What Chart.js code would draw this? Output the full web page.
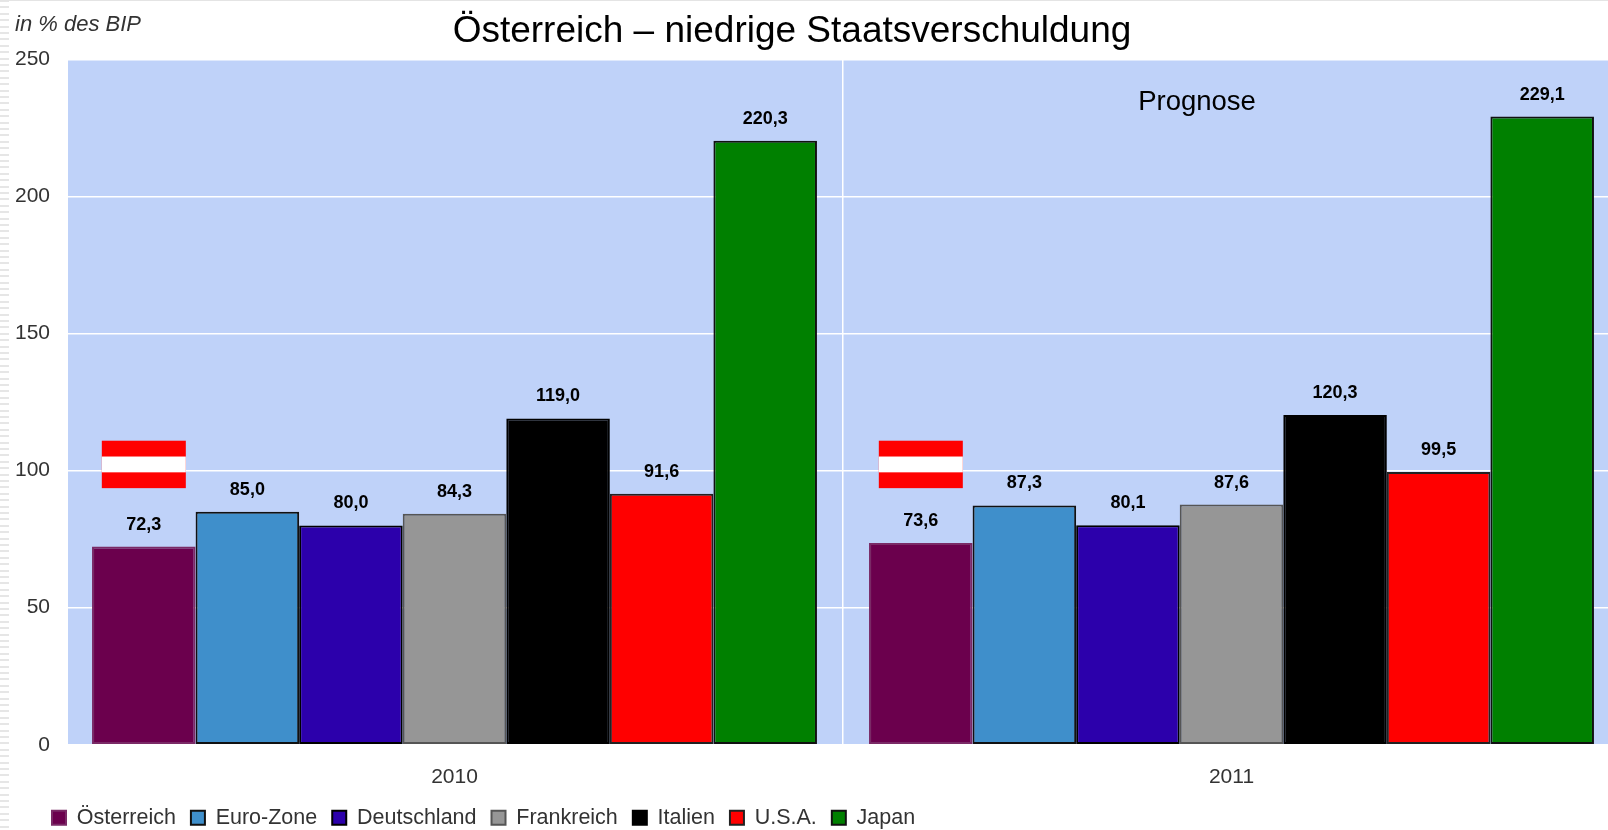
<!DOCTYPE html>
<html>
<head>
<meta charset="utf-8">
<title>Österreich – niedrige Staatsverschuldung</title>
<script src="https://cdn.jsdelivr.net/npm/chart.js@4/dist/chart.umd.min.js"></script>
<style>
  html, body { margin: 0; padding: 0; width: 1608px; height: 830px; overflow: hidden; background: #fff; }
  #stripes { position: absolute; left: 0; top: 0; width: 9px; height: 830px;
    background: repeating-linear-gradient(to bottom, #e6e6e6 0, #e6e6e6 2px, #fff 2px, #fff 6.4px); }
  #topline { position: absolute; left: 0; top: 0; width: 1608px; height: 1px; background: #e4e4e4; }
  canvas { position: absolute; left: 0; top: 0; }
</style>
</head>
<body>
<div id="stripes"></div>
<div id="topline"></div>
<canvas id="chart" width="1620" height="850"></canvas>
<script>
const categories = ['2010', '2011'];
const seriesNames = ['Österreich', 'Euro-Zone', 'Deutschland', 'Frankreich', 'Italien', 'U.S.A.', 'Japan'];
const oesterreich = [72.3, 73.6];
const euroZone = [85.0, 87.3];
const deutschland = [80.0, 80.1];
const frankreich = [84.3, 87.6];
const italien = [119.0, 120.3];
const usa = [91.6, 99.5];
const japan = [220.3, 229.1];
const seriesValues = [oesterreich, euroZone, deutschland, frankreich, italien, usa, japan];
const seriesColors = ['#6b004d', '#3f8fcb', '#2c00ab', '#969696', '#000000', '#ff0000', '#008000'];
const seriesBorders = ['#7a2a66', '#111111', '#000000', '#555555', '#000000', '#222222', '#111111'];
const yTicks = [0, 50, 100, 150, 200, 250];

const FONT = '"Liberation Sans", Arial, sans-serif';

// plot background, title, value labels and the two flags
const decorations = {
  id: 'decorations',
  afterLayout(chart) {
    chart.legend.left = 37;
    chart.legend.top = 792;
  },
  beforeDraw(chart) {
    const { ctx, chartArea: a } = chart;
    ctx.save();
    ctx.fillStyle = '#bfd2f9';
    ctx.fillRect(a.left + 2, a.top, a.right - a.left - 2, a.bottom - a.top);
    ctx.restore();
  },
  afterDatasetsDraw(chart) {
    const { ctx } = chart;
    const y = chart.scales.y;
    ctx.save();
    ctx.textAlign = 'center';
    ctx.textBaseline = 'middle';

    ctx.font = 'bold 18px ' + FONT;
    ctx.fillStyle = '#000';
    chart.data.datasets.forEach((ds, i) => {
      chart.getDatasetMeta(i).data.forEach((bar, j) => {
        ctx.fillText(ds.data[j].toFixed(1).replace('.', ','), bar.x, bar.y - 22);
      });
    });

    // flag sits above the first bar of each group
    chart.getDatasetMeta(0).data.forEach(bar => {
      const top = y.getPixelForValue(110.9);
      const bottom = y.getPixelForValue(93.6);
      const h = (bottom - top) / 3;
      ctx.fillStyle = '#ff0000';
      ctx.fillRect(bar.x - 42, top, 84, bottom - top);
      ctx.fillStyle = '#ffffff';
      ctx.fillRect(bar.x - 42, top + h, 84, h);
    });

    ctx.fillStyle = '#000';
    ctx.font = '27.5px ' + FONT;
    ctx.fillText('Prognose', 1197, 102);

    ctx.font = '37px ' + FONT;
    ctx.fillText('Österreich – niedrige Staatsverschuldung', 792, 32);

    ctx.textAlign = 'left';
    ctx.fillStyle = '#333';
    ctx.font = 'italic 22px ' + FONT;
    ctx.fillText('in % des BIP', 15, 25);
    ctx.restore();
  }
};

new Chart(document.getElementById('chart'), {
  type: 'bar',
  data: {
    labels: categories,
    datasets: seriesNames.map((name, i) => ({
      label: name,
      data: seriesValues[i],
      backgroundColor: seriesColors[i],
      borderColor: seriesBorders[i],
      borderWidth: 2,
      borderSkipped: false,
      barPercentage: 1,
      categoryPercentage: 0.933
    }))
  },
  options: {
    responsive: false,
    animation: false,
    layout: { padding: { top: 59.3, left: 0, right: 0, bottom: 0 } },
    scales: {
      x: {
        grid: { color: '#ffffff', lineWidth: 1.5, drawTicks: false },
        border: { display: false },
        ticks: { color: '#333', font: { family: FONT, size: 21 }, padding: 20 },
        afterFit(scale) { scale.height = 58.7; }
      },
      y: {
        min: 0,
        max: 250,
        afterBuildTicks(scale) { scale.ticks = yTicks.map(v => ({ value: v })); },
        afterFit(scale) { scale.width = 66; },
        grid: { color: '#ffffff', lineWidth: 1.5, drawTicks: false },
        border: { display: false },
        ticks: { color: '#333', font: { family: FONT, size: 21 }, padding: 16 }
      }
    },
    plugins: {
      tooltip: { enabled: false },
      legend: {
        position: 'bottom',
        align: 'start',
        labels: {
          boxWidth: 14,
          boxHeight: 14,
          padding: 15,
          color: '#333',
          font: { family: FONT, size: 21.5 }
        }
      }
    }
  },
  plugins: [decorations]
});
</script>
</body>
</html>
